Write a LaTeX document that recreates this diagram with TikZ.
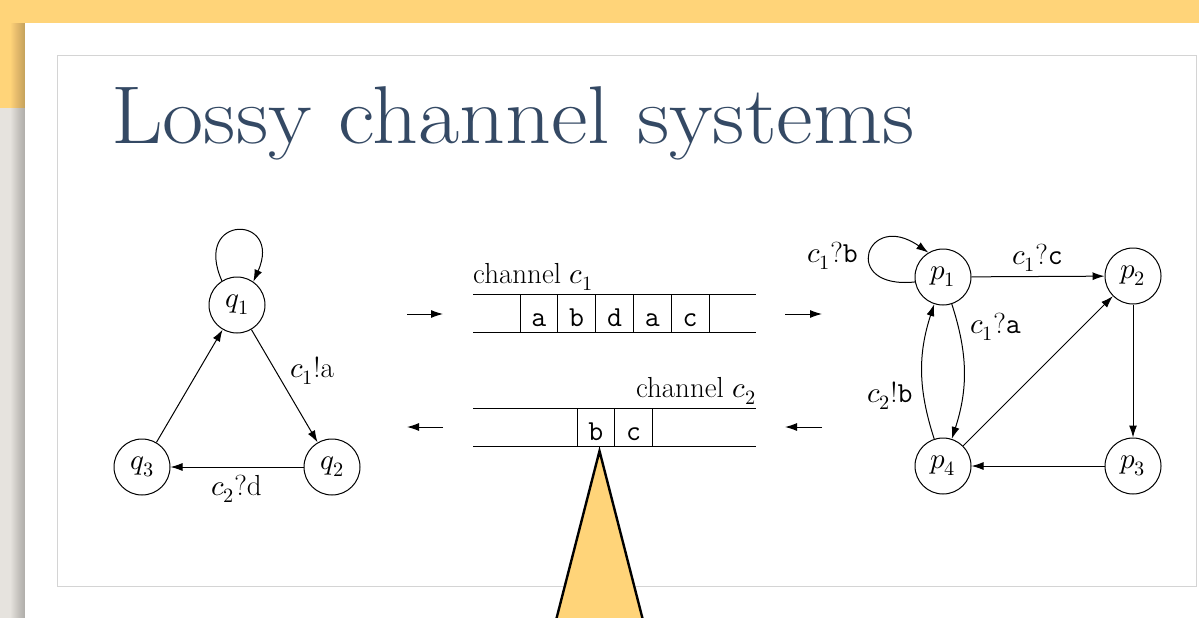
\documentclass[tikz,border=0pt]{standalone}
\usepackage{unicode-math}
\setmathfont{Latin Modern Math}
\usetikzlibrary{arrows.meta}
\definecolor{ochre}{HTML}{FFD479}
\definecolor{titleblue}{HTML}{344964}
\definecolor{paper}{HTML}{E6E3DE}
\definecolor{framegray}{HTML}{D4D4D4}
\begin{document}
\begin{tikzpicture}[x=1pt,y=-1pt,
  every node/.style={font=\fontsize{29}{35}\selectfont},
  state/.style={circle,draw,line width=1pt,minimum size=56pt,inner sep=0pt},
  conn/.style={line width=1pt,-{Latex[length=12pt,width=8pt]}},
  lbl/.style={inner sep=0pt},
  rule/.style={line width=1pt},
  cell/.style={draw,line width=1pt,minimum width=37.8pt,minimum height=38pt,inner sep=0pt,
    text height=26pt,text depth=0pt,font=\fontsize{29}{35}\selectfont\ttfamily},
]
\useasboundingbox (0,0) rectangle (1199,618);
% background
\fill[ochre] (0,0) rectangle (1199,23);
\fill[ochre] (0,0) rectangle (25,108);
\fill[paper] (0,108) rectangle (25,618);
\foreach \i in {0,...,13} {\fill[black,opacity=0.016] (11+\i,23) rectangle (25,618);}
\fill[white] (25,23) rectangle (1199,618);
\draw[framegray,line width=1pt] (57,56) rectangle (1196,586);
% title
\node[anchor=base west,inner sep=0pt,text=titleblue,font=\fontsize{82}{90}\selectfont] (title) at (111,143) {\scalebox{1.093}[1]{Lossy channel systems}};
% left automaton
\node[state] (q1) at (237,305) {$q_1$};
\node[state] (q2) at (332,467) {$q_2$};
\node[state] (q3) at (142,467) {$q_3$};
\draw[conn] (q1.122) to[out=114,in=66,looseness=6.0] (q1.55);
\draw[conn] (q1) -- (q2);
\draw[conn] (q2) -- (q3);
\draw[conn] (q3) -- (q1);
\node[lbl,anchor=base west] (la) at (290,377) {$c_1$!a};
\node[lbl,anchor=base west] (ld) at (211,495) {$c_2$?d};
% channel 1
\node[lbl,anchor=base west] (ch1) at (473,283) {channel $c_1$};
\draw[rule] (473,294) -- (756,294);
\draw[rule] (473,332) -- (756,332);
\node[cell] (k1) at (538.9,313) {a};
\node[cell] (k2) at (576.7,313) {b};
\node[cell] (k3) at (614.5,313) {d};
\node[cell] (k4) at (652.3,313) {a};
\node[cell] (k5) at (690.1,313) {c};
% channel 2
\node[lbl,anchor=base east] (ch2) at (756,397) {channel $c_2$};
\draw[rule] (473,408) -- (756,408);
\draw[rule] (473,446) -- (756,446);
\node[cell] (m1) at (595.9,427) {b};
\node[cell] (m2) at (633.7,427) {c};
% short arrows
\coordinate (a1s) at (407,314); \coordinate (a1e) at (443,314);
\coordinate (a2s) at (785,314); \coordinate (a2e) at (822,314);
\coordinate (a3s) at (443,427); \coordinate (a3e) at (407,427);
\coordinate (a4s) at (822,427); \coordinate (a4e) at (785,427);
\draw[conn] (a1s) -- (a1e);
\draw[conn] (a2s) -- (a2e);
\draw[conn] (a3s) -- (a3e);
\draw[conn] (a4s) -- (a4e);
% right automaton
\node[state] (p1) at (943,277) {$p_1$};
\node[state] (p2) at (1133,276) {$p_2$};
\node[state] (p3) at (1133,466) {$p_3$};
\node[state] (p4) at (943,466) {$p_4$};
\draw[conn] (p1.190) to[out=186,in=145,looseness=6.0] (p1.121);
\draw[conn] (p1) -- (p2);
\draw[conn] (p2) -- (p3);
\draw[conn] (p3) -- (p4);
\draw[conn] (p4) -- (p2);
\draw[conn] (p1) to[bend left=18] (p4);
\draw[conn] (p4) to[bend left=18] (p1);
\node[lbl,anchor=base west] (lb) at (807,262) {$c_1$?\texttt{b}};
\node[lbl,anchor=base west] (lc) at (1012,264) {$c_1$?\texttt{c}};
\node[lbl,anchor=base west] (lta) at (970,333) {$c_1$?\texttt{a}};
\node[lbl,anchor=base west] (ltb) at (867,402) {$c_2$!\texttt{b}};
% pointer triangle
\draw[fill=ochre,line width=2.4pt] (599.5,451) -- (553,632) -- (646,632) -- cycle;
\end{tikzpicture}
\end{document}
